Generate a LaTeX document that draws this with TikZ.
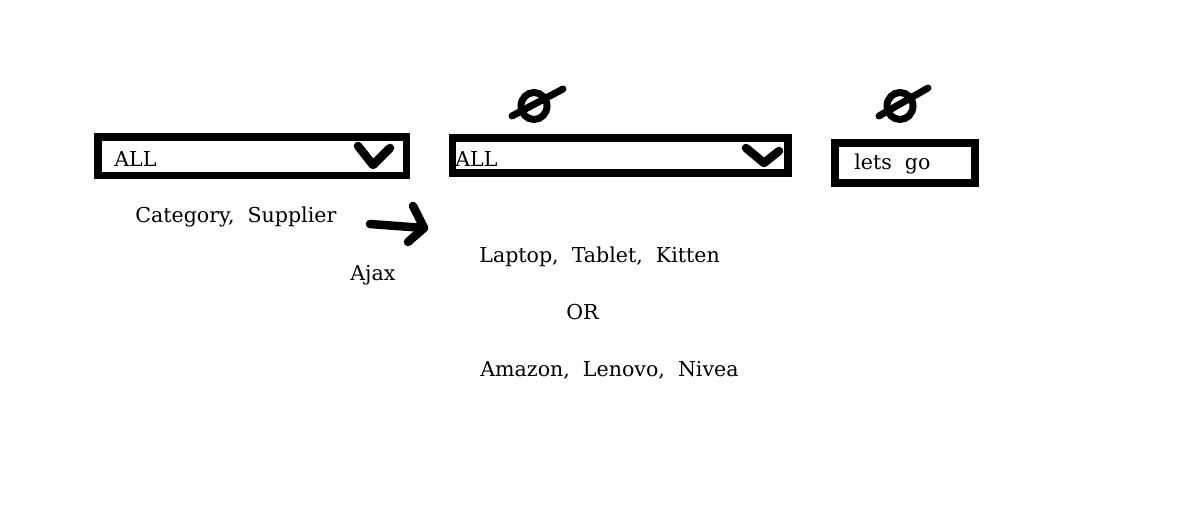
\documentclass[tikz,border=0pt]{standalone}
\usepackage{fontspec}
\setmainfont{DejaVu Serif}
\usetikzlibrary{positioning, arrows.meta}

\begin{document}
\begin{tikzpicture}[x=0.02cm, y=-0.02cm,
		dropbox/.style={line width=0.15cm},
		sketch/.style={line width=0.17cm, line cap=round, line join=round},
		txt/.style={inner sep=0pt, anchor=base west, font=\fontsize{11.7}{14}\selectfont}]
		
		\useasboundingbox (0,0) rectangle (1192,526);
		
		% Category / Supplier dropdown
		\draw[dropbox] (98,137) rectangle (406.5,175.5);
		\draw[sketch] (358,146) -- (373,165) -- (390,148);
		\node[txt] (all1) at (114,167) {ALL};
		\node[txt] (kind) at (135,223) {Category,\ \ Supplier};
		
		% Ajax arrow
		\coordinate (tail) at (370,224);
		\coordinate (tip) at (424,228);
		\draw[sketch] (tail) -- (tip);
		\draw[sketch] (413,206) -- (tip) -- (408,242);
		\node[txt] (ajax) at (350,281) {Ajax};
		
		% Item dropdown
		\draw[line width=0.14cm] (534,106) circle [x radius=13, y radius=13.5];
		\draw[sketch, line width=0.14cm] (512,116) -- (563,89);
		\draw[dropbox] (452.5,138) rectangle (788,173);
		\draw[sketch] (746,148) -- (764,163) -- (779,151);
		\node[txt] (all2) at (455,167) {ALL};
		
		\node[txt] (items) at (479,263) {Laptop,\ \ Tablet,\ \ Kitten};
		\node[txt] (or) at (566,320) {OR};
		\node[txt] (firms) at (480,377) {Amazon,\ \ Lenovo,\ \ Nivea};
		
		% Go button
		\draw[line width=0.14cm] (900,106) circle [x radius=13, y radius=13.5];
		\draw[sketch, line width=0.14cm] (879,116) -- (928,88);
		\draw[dropbox, line width=0.16cm] (835,143) rectangle (975,183);
		\node[txt] (go) at (854,170) {lets\ \ go};
		
	\end{tikzpicture}
\end{document}
